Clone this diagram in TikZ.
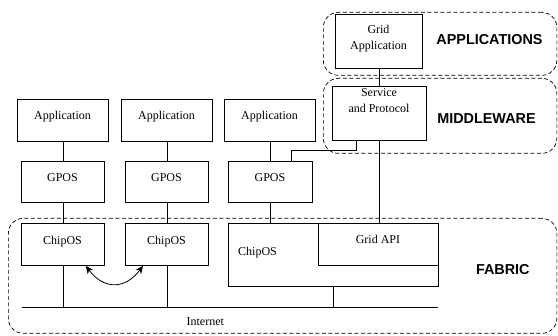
\documentclass[tikz,border=0pt]{standalone}
\usepackage{fontspec}
\setmainfont{Liberation Serif}
\newfontfamily\lblfont{Liberation Sans}
\usetikzlibrary{arrows.meta,calc}
\begin{document}
\begin{tikzpicture}[x=1pt,y=-1pt,
  boxn/.style={draw, line width=0.8pt, inner sep=0pt, anchor=north west},
  grp/.style={draw, dashed, dash pattern=on 4pt off 2.5pt, line width=0.7pt, rounded corners=15pt, inner sep=0pt, anchor=north west},
  txt/.style={inner sep=0pt, font=\fontsize{12}{16}\selectfont, anchor=base},
  mtxt/.style={inner sep=0pt, font=\fontsize{12}{16}\selectfont, align=center, anchor=center},
  big/.style={inner sep=0pt, font=\lblfont\bfseries\fontsize{14.4}{16}\selectfont, anchor=base},
  conn/.style={line width=0.8pt},
  dbl/.style={line width=0.8pt, {Stealth[length=8pt,width=7pt]}-{Stealth[length=8pt,width=7pt]}}]
\useasboundingbox (0,0) rectangle (558,336);

% group frames
\node[grp, minimum width=233.5pt, minimum height=63pt] (appsgrp) at (323,12) {};
\node[grp, minimum width=233.5pt, minimum height=75pt] (midgrp) at (323,78) {};
\node[grp, minimum width=548.5pt, minimum height=115pt] (fabgrp) at (8,218) {};

% boxes
\node[boxn, minimum width=91pt, minimum height=42pt] (app1) at (17,99) {};
\node[boxn, minimum width=91pt, minimum height=42pt] (app2) at (121,99) {};
\node[boxn, minimum width=91pt, minimum height=42pt] (app3) at (224,99) {};
\node[boxn, minimum width=83pt, minimum height=41pt] (gpos1) at (21,161) {};
\node[boxn, minimum width=83pt, minimum height=41pt] (gpos2) at (125,161) {};
\node[boxn, minimum width=84pt, minimum height=41pt] (gpos3) at (228,161) {};
\node[boxn, minimum width=83pt, minimum height=42pt] (chip1) at (21,223) {};
\node[boxn, minimum width=83pt, minimum height=42pt] (chip2) at (125,223) {};
\node[boxn, minimum width=210pt, minimum height=63pt] (chip3) at (228,223) {};
\node[boxn, minimum width=120pt, minimum height=42pt] (gridapi) at (318,223) {};
\node[boxn, minimum width=87pt, minimum height=54pt] (gridapp) at (335,14) {};
\node[boxn, minimum width=94pt, minimum height=54pt] (service) at (332,86) {};

% texts
\node[txt] (app1t) at (62.5,120) {Application};
\node[txt] (app2t) at (166.5,120) {Application};
\node[txt] (app3t) at (269.5,120) {Application};
\node[txt] (gpos1t) at (62.5,182) {GPOS};
\node[txt] (gpos2t) at (166.5,182) {GPOS};
\node[txt] (gpos3t) at (270,182) {GPOS};
\node[txt] (chip1t) at (62.5,244.5) {ChipOS};
\node[txt] (chip2t) at (166.5,244.5) {ChipOS};
\node[txt] (chip3t) at (257.5,255.5) {ChipOS};
\node[txt] (gridapit) at (378,244) {Grid API};
\node[mtxt] (gridappt) at (378.5,38.7) {Grid\\Application};
\node[mtxt] (servicet) at (379,100.4) {Service\\and Protocol};
\node[txt] (nett) at (205.3,325.5) {Internet};
\node[big] (appsl) at (489.5,45) {APPLICATIONS};
\node[big] (midl) at (486.5,123.3) {MIDDLEWARE};
\node[big] (fabl) at (502.8,274.3) {FABRIC};

% internet line
\coordinate (netL) at (22,307);
\coordinate (netR) at (438,307);
\draw[conn] (netL) -- (netR);

% connectors
\draw[conn] (app1.south) -- (gpos1.north);
\draw[conn] (app2.south) -- (gpos2.north);
\draw[conn] (gpos3.north |- app3.south) -- (gpos3.north);
\draw[conn] (gpos1.south) -- (chip1.north);
\draw[conn] (gpos2.south) -- (chip2.north);
\draw[conn] (gpos3.south) -- (gpos3.south |- chip3.north);
\draw[conn] (chip1.south) -- (chip1.south |- netL);
\draw[conn] (chip2.south) -- (chip2.south |- netL);
\draw[conn] (chip3.south) -- (chip3.south |- netL);
\draw[conn] (service.north |- gridapp.south) -- (service.north);
\draw[conn] (service.south) -- (service.south |- gridapi.north);
\draw[conn] ([xshift=24pt]service.south west) -- ++(0,10) -| ([xshift=63pt]gpos3.north west);
\draw[dbl] ([xshift=-19pt]chip1.south east) .. controls +(18,24) and +(-18,24) .. ([xshift=18pt]chip2.south west);
\end{tikzpicture}
\end{document}
